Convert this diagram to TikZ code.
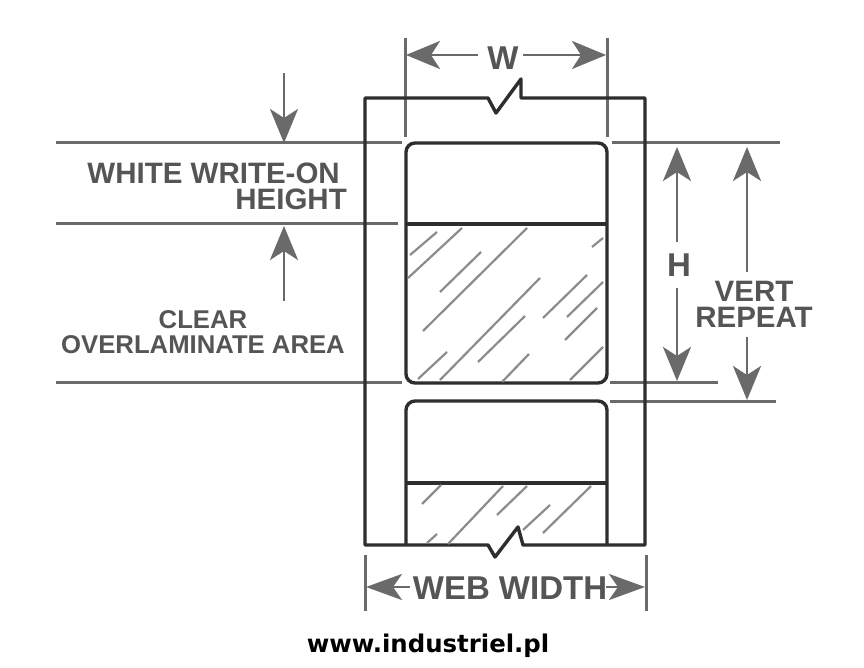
\documentclass[tikz,border=0pt]{standalone}
\usepackage{fontspec}
\setmainfont{Liberation Sans}
\newfontfamily\urlfont{DejaVu Sans}
\usetikzlibrary{arrows.meta}
\definecolor{dimgray}{HTML}{6A6A6A}
\definecolor{inkgray}{HTML}{2E2E2E}
\definecolor{textgray}{HTML}{555555}
\tikzset{
  outline/.style={draw=inkgray, line width=3.4pt, line join=round},
  dimline/.style={draw=dimgray, line width=3pt},
  dimarrow/.style={draw=dimgray, line width=2.8pt, -{Stealth[length=34pt, width=28pt, inset=9pt]}},
  webarrow/.style={draw=dimgray, line width=2.8pt, -{Stealth[length=36pt, width=26pt, inset=9pt]}},
  hatch/.style={draw=gray!90, line width=2.2pt},
  dimtext/.style={text=textgray, font=\fontsize{29.5}{26}\selectfont\bfseries, inner sep=0pt},
  bigtext/.style={text=textgray, font=\fontsize{33}{33}\selectfont\bfseries, inner sep=0pt}
}
\begin{document}
\begin{tikzpicture}[x=1pt, y=-1pt]

  \useasboundingbox[fill=white] (0,0) rectangle (864,668);

  % Web corners
  \node[coordinate] (WebTL) at (365,98) {};
  \node[coordinate] (WebTR) at (645,98) {};
  \node[coordinate] (WebBL) at (365,545) {};
  \node[coordinate] (WebBR) at (645,545) {};

  % Extension lines, left
  \node[coordinate] (L1) at (56,143) {};
  \node[coordinate] (L2) at (56,224) {};
  \node[coordinate] (L3) at (56,382) {};
  \node[coordinate] (M1) at (402,143) {};
  \node[coordinate] (M2) at (398,224) {};
  \node[coordinate] (M3) at (402,382) {};
  \draw[dimline] (L1) -- (M1);
  \draw[dimline] (L2) -- (M2);
  \draw[dimline] (L3) -- (M3);

  % Extension lines, right
  \node[coordinate] (R1) at (612,143) {};
  \node[coordinate] (R2) at (610,382) {};
  \node[coordinate] (R3) at (610,401) {};
  \node[coordinate] (S1) at (780,143) {};
  \node[coordinate] (S2) at (718,382) {};
  \node[coordinate] (S3) at (776,401) {};
  \draw[dimline] (R1) -- (S1);
  \draw[dimline] (R2) -- (S2);
  \draw[dimline] (R3) -- (S3);

  % W dimension
  \node[coordinate] (W1) at (405,38) {};
  \node[coordinate] (W2) at (405,137) {};
  \node[coordinate] (W3) at (607,38) {};
  \node[coordinate] (W4) at (607,137) {};
  \draw[dimline] (W1) -- (W2);
  \draw[dimline] (W3) -- (W4);
  \node[bigtext] (W) at (503,58) {W};
  \node[coordinate] (WA) at (478,55) {};
  \node[coordinate] (WB) at (406,55) {};
  \node[coordinate] (WC) at (523,55) {};
  \node[coordinate] (WD) at (606,55) {};
  \draw[dimarrow] (WA) -- (WB);
  \draw[dimarrow] (WC) -- (WD);

  % Web material
  \draw[outline] (WebBL) -- (WebTL) -- (488,98) -- (496,113) -- (521,79) -- (521,98) -- (WebTR)
    -- (WebBR) -- (523,545) -- (518,527) -- (495,557) -- (488,545) -- cycle;

  % First label
  \node[coordinate] (A1) at (406,224) {};
  \node[coordinate] (A2) at (607,224) {};
  \draw[outline, rounded corners=9pt] (406,183) -- (406,143) -- (607,143) -- (607,383) -- (406,383) -- cycle;
  \draw[outline] (A1) -- (A2);

  % Second label
  \node[coordinate] (B1) at (406,483) {};
  \node[coordinate] (B2) at (607,483) {};
  \draw[outline, rounded corners=9pt] (406,545) -- (406,401) -- (607,401) -- (607,545);
  \draw[outline] (B1) -- (B2);

  % Hatching, first label
  \draw[hatch] (410,255) -- (437,232);
  \draw[hatch] (408,278) -- (462,228);
  \draw[hatch] (440,292) -- (481,252);
  \draw[hatch] (423,331) -- (527,228);
  \draw[hatch] (418,379) -- (447,352);
  \draw[hatch] (440,380) -- (540,278);
  \draw[hatch] (478,362) -- (525,316);
  \draw[hatch] (502,382) -- (529,354);
  \draw[hatch] (543,318) -- (587,275);
  \draw[hatch] (567,317) -- (603,282);
  \draw[hatch] (565,340) -- (597,308);
  \draw[hatch] (570,380) -- (603,347);
  \draw[hatch] (592,247) -- (603,238);

  % Hatching, second label
  \draw[hatch] (422,504) -- (441,485);
  \draw[hatch] (427,543) -- (437,534);
  \draw[hatch] (448,544) -- (503,486);
  \draw[hatch] (497,515) -- (527,486);
  \draw[hatch] (523,530) -- (550,505);
  \draw[hatch] (543,533) -- (591,486);

  % Left arrows
  \node[coordinate] (C1) at (284,73) {};
  \node[coordinate] (C2) at (284,143) {};
  \node[coordinate] (C3) at (284,301) {};
  \node[coordinate] (C4) at (284,226) {};
  \draw[dimarrow] (C1) -- (C2);
  \draw[dimarrow] (C3) -- (C4);

  % Left labels
  \node[dimtext, anchor=east] (T1) at (340,173) {WHITE WRITE-ON};
  \node[dimtext, anchor=east] (T2) at (347,199) {HEIGHT};
  \node[dimtext, font=\fontsize{25.7}{25}\selectfont\bfseries, align=center] (T3) at (203,332) {CLEAR\\OVERLAMINATE AREA};

  % H dimension
  \node[bigtext] (H) at (679,265) {H};
  \node[coordinate] (H1) at (677,242) {};
  \node[coordinate] (H2) at (677,147) {};
  \node[coordinate] (H3) at (677,288) {};
  \node[coordinate] (H4) at (677,381) {};
  \draw[dimarrow] (H1) -- (H2);
  \draw[dimarrow] (H3) -- (H4);

  % Vert repeat dimension
  \node[dimtext, align=center] (V) at (754,304) {VERT\\REPEAT};
  \node[coordinate] (V1) at (747,272) {};
  \node[coordinate] (V2) at (747,147) {};
  \node[coordinate] (V3) at (747,337) {};
  \node[coordinate] (V4) at (747,400) {};
  \draw[dimarrow] (V1) -- (V2);
  \draw[dimarrow] (V3) -- (V4);

  % Web width dimension
  \node[coordinate] (X1) at (365,555) {};
  \node[coordinate] (X2) at (365,611) {};
  \node[coordinate] (X3) at (646,555) {};
  \node[coordinate] (X4) at (646,611) {};
  \draw[dimline] (X1) -- (X2);
  \draw[dimline] (X3) -- (X4);
  \node[bigtext] (WW) at (510,588) {WEB WIDTH};
  \node[coordinate] (X5) at (410,587) {};
  \node[coordinate] (X6) at (366,587) {};
  \node[coordinate] (X7) at (606,587) {};
  \node[coordinate] (X8) at (645,587) {};
  \draw[webarrow] (X5) -- (X6);
  \draw[webarrow] (X7) -- (X8);

  % Site name
  \node[inner sep=0pt, font=\urlfont\fontsize{24.4}{24}\selectfont\bfseries] (URL) at (428,646) {www.industriel.pl};

\end{tikzpicture}
\end{document}
